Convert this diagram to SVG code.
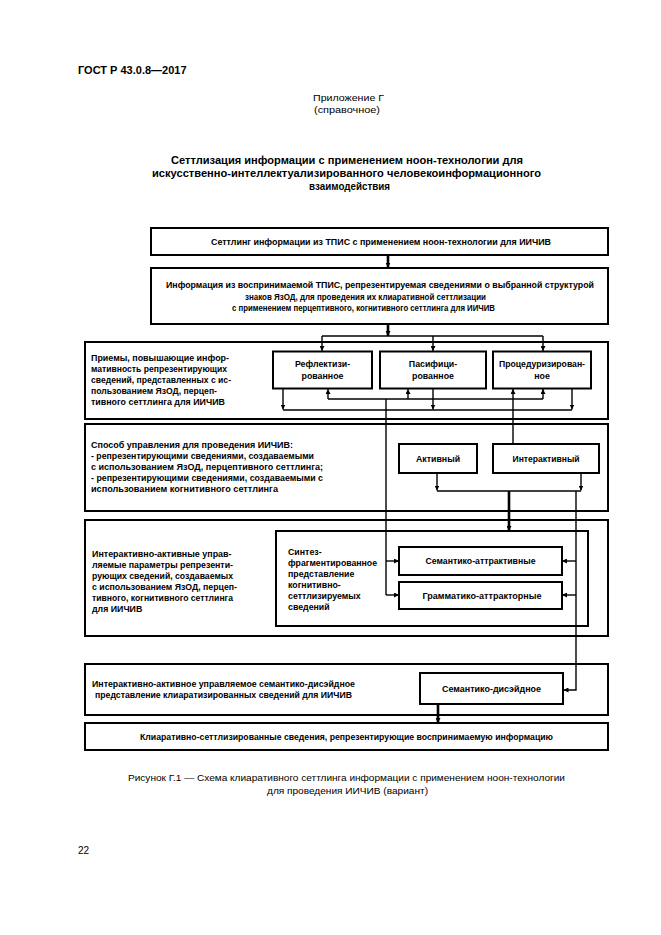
<svg xmlns="http://www.w3.org/2000/svg" width="661" height="935" viewBox="0 0 661 935">
<defs>
<style>
.bx{fill:none;stroke:#000;stroke-width:2}
.ln{fill:none;stroke:#000;stroke-width:1.4}
.tk{stroke-width:2.6}
.t{font-family:"Liberation Sans",Arial,sans-serif;font-size:8.8px;font-weight:bold;fill:#000}
.c{text-anchor:middle}
.h{font-family:"Liberation Sans",Arial,sans-serif;fill:#000}
</style>
<marker id="ah" viewBox="0 0 10 10" refX="10" refY="5" markerWidth="5" markerHeight="5" markerUnits="userSpaceOnUse" orient="auto"><path d="M0,0 L10,5 L0,10 z" fill="#000"/></marker>
</defs>
<rect width="661" height="935" fill="#fff"/>
<g id="header">
<text class="h" x="78" y="74" font-size="11" font-weight="bold">ГОСТ Р 43.0.8—2017</text>
<text class="h" x="348.5" y="100.5" font-size="9.5" text-anchor="middle" textLength="71" lengthAdjust="spacingAndGlyphs">Приложение Г</text>
<text class="h" x="347" y="112.5" font-size="9.5" text-anchor="middle" textLength="66" lengthAdjust="spacingAndGlyphs">(справочное)</text>
<text class="h" x="347" y="164" font-size="10.5" font-weight="bold" text-anchor="middle" textLength="352" lengthAdjust="spacingAndGlyphs">Сеттлизация информации с применением ноон-технологии для</text>
<text class="h" x="346.5" y="177" font-size="10.5" font-weight="bold" text-anchor="middle" textLength="389" lengthAdjust="spacingAndGlyphs">искусственно-интеллектуализированного человекоинформационного</text>
<text class="h" x="349.5" y="190" font-size="10.5" font-weight="bold" text-anchor="middle" textLength="81" lengthAdjust="spacingAndGlyphs">взаимодействия</text>
</g>
<g id="connectors">
<path class="ln tk" d="M388,255 V267.5" marker-end="url(#ah)"/>
<path class="ln tk" d="M388,324 V336" marker-end="url(#ah)"/>
<path class="ln" d="M322,336 H543"/>
<path class="ln" d="M322,336 V351" marker-end="url(#ah)"/>
<path class="ln" d="M433,336 V351" marker-end="url(#ah)"/>
<path class="ln" d="M543,336 V351" marker-end="url(#ah)"/>
<path class="ln" d="M328,399 H543"/>
<path class="ln" d="M328,399 V389" marker-end="url(#ah)"/>
<path class="ln" d="M408,399 V389" marker-end="url(#ah)"/>
<path class="ln" d="M513,399 V389" marker-end="url(#ah)"/>
<path class="ln" d="M543,399 V389" marker-end="url(#ah)"/>
<path class="ln" d="M283,389 V409.5" marker-end="url(#ah)"/>
<path class="ln" d="M433,389 V409.5" marker-end="url(#ah)"/>
<path class="ln" d="M572,389 V409.5" marker-end="url(#ah)"/>
<path class="ln" d="M283,410 H572"/>
<path class="ln" d="M386,399 V595"/>
<path class="ln" d="M513,399 V444"/>
<path class="ln" d="M437,473 V490.5" marker-end="url(#ah)"/>
<path class="ln" d="M581,473 V490.5" marker-end="url(#ah)"/>
<path class="ln" d="M437,491 H581"/>
<path class="ln tk" d="M509,491 V531" marker-end="url(#ah)"/>
<path class="ln" d="M576,491 V690 H563.5" marker-end="url(#ah)"/>
<path class="ln" d="M386,561 H399" marker-end="url(#ah)"/>
<path class="ln" d="M386,595 H399" marker-end="url(#ah)"/>
<path class="ln" d="M576,561 H562" marker-end="url(#ah)"/>
<path class="ln" d="M576,595 H562" marker-end="url(#ah)"/>
<path class="ln tk" d="M438,704 V723" marker-end="url(#ah)"/>
</g>
<g id="box-settling">
<rect class="bx" x="151" y="228" width="457" height="27"/>
<text class="t c" x="381" y="244.5" textLength="340" lengthAdjust="spacingAndGlyphs">Сеттлинг информации из ТПИС с применением ноон-технологии для ИИЧИВ</text>
</g>
<g id="box-info">
<rect class="bx" x="151" y="268" width="457" height="56"/>
<text class="t" x="166" y="288" textLength="428" lengthAdjust="spacingAndGlyphs">Информация из воспринимаемой ТПИС, репрезентируемая сведениями о выбранной структурой</text>
<text class="t" x="245" y="299.5" textLength="241" lengthAdjust="spacingAndGlyphs">знаков ЯзОД, для проведения их клиаративной сеттлизации</text>
<text class="t" x="232" y="310.5" textLength="263" lengthAdjust="spacingAndGlyphs">с применением перцептивного, когнитивного сеттлинга для ИИЧИВ</text>
</g>
<g id="sec-methods">
<rect class="bx" x="85" y="342" width="523" height="77"/>
<text class="t" x="91" y="361" textLength="138" lengthAdjust="spacingAndGlyphs">Приемы, повышающие инфор-</text>
<text class="t" x="91" y="372" textLength="136" lengthAdjust="spacingAndGlyphs">мативность репрезентирующих</text>
<text class="t" x="91" y="383" textLength="140" lengthAdjust="spacingAndGlyphs">сведений, представленных с ис-</text>
<text class="t" x="91" y="394" textLength="126" lengthAdjust="spacingAndGlyphs">пользованием ЯзОД, перцеп-</text>
<text class="t" x="91" y="405" textLength="134" lengthAdjust="spacingAndGlyphs">тивного сеттлинга для ИИЧИВ</text>
</g>
<g id="box-reflect">
<rect class="bx" x="273" y="351.5" width="99" height="37"/>
<text class="t c" x="322.5" y="367">Рефлектизи-</text>
<text class="t c" x="322.5" y="379">рованное</text>
</g>
<g id="box-pasif">
<rect class="bx" x="380" y="351.5" width="106" height="37"/>
<text class="t c" x="433" y="367">Пасифици-</text>
<text class="t c" x="433" y="379">рованное</text>
</g>
<g id="box-proc">
<rect class="bx" x="493" y="351.5" width="98" height="37"/>
<text class="t c" x="542" y="367" textLength="86" lengthAdjust="spacingAndGlyphs">Процедуризирован-</text>
<text class="t c" x="542" y="379">ное</text>
</g>
<g id="sec-control">
<rect class="bx" x="85" y="424" width="523" height="87"/>
<text class="t" x="91" y="448" textLength="202" lengthAdjust="spacingAndGlyphs">Способ управления для проведения ИИЧИВ:</text>
<text class="t" x="91" y="459" textLength="223" lengthAdjust="spacingAndGlyphs">- репрезентирующими сведениями, создаваемыми</text>
<text class="t" x="91" y="470" textLength="232" lengthAdjust="spacingAndGlyphs">с использованием ЯзОД, перцептивного сеттлинга;</text>
<text class="t" x="91" y="481" textLength="232" lengthAdjust="spacingAndGlyphs">- репрезентирующими сведениями, создаваемыми с</text>
<text class="t" x="91" y="492" textLength="187" lengthAdjust="spacingAndGlyphs">использованием когнитивного сеттлинга</text>
</g>
<g id="box-active">
<rect class="bx" x="399" y="444" width="78" height="29"/>
<text class="t c" x="438" y="461.5">Активный</text>
</g>
<g id="box-interactive">
<rect class="bx" x="493" y="444" width="106" height="29"/>
<text class="t c" x="546" y="461.5" textLength="67" lengthAdjust="spacingAndGlyphs">Интерактивный</text>
</g>
<g id="sec-params">
<rect class="bx" x="85" y="520" width="523" height="116"/>
<text class="t" x="92" y="557" textLength="139.5" lengthAdjust="spacingAndGlyphs">Интерактивно-активные управ-</text>
<text class="t" x="92" y="568" textLength="141" lengthAdjust="spacingAndGlyphs">ляемые параметры репрезенти-</text>
<text class="t" x="92" y="579" textLength="141" lengthAdjust="spacingAndGlyphs">рующих сведений, создаваемых</text>
<text class="t" x="92" y="590" textLength="145" lengthAdjust="spacingAndGlyphs">с использованием ЯзОД, перцеп-</text>
<text class="t" x="92" y="601" textLength="141" lengthAdjust="spacingAndGlyphs">тивного, когнитивного сеттлинга</text>
<text class="t" x="92" y="612">для ИИЧИВ</text>
</g>
<g id="box-synthesis">
<rect class="bx" x="276" y="531" width="312" height="95"/>
<text class="t" x="288" y="555">Синтез-</text>
<text class="t" x="288" y="566" textLength="89" lengthAdjust="spacingAndGlyphs">фрагментированное</text>
<text class="t" x="288" y="577">представление</text>
<text class="t" x="288" y="588">когнитивно-</text>
<text class="t" x="288" y="599">сеттлизируемых</text>
<text class="t" x="288" y="610">сведений</text>
</g>
<g id="box-sem-attr">
<rect class="bx" x="399" y="547" width="163" height="28"/>
<text class="t c" x="480.5" y="564" textLength="110" lengthAdjust="spacingAndGlyphs">Семантико-аттрактивные</text>
</g>
<g id="box-gram-attr">
<rect class="bx" x="399" y="582" width="163" height="27"/>
<text class="t c" x="482" y="598.5" textLength="119" lengthAdjust="spacingAndGlyphs">Грамматико-аттракторные</text>
</g>
<g id="sec-semdis">
<rect class="bx" x="85" y="664" width="523" height="51"/>
<text class="t" x="92" y="687" textLength="263" lengthAdjust="spacingAndGlyphs">Интерактивно-активное управляемое семантико-дисэйдное</text>
<text class="t" x="95" y="698" textLength="257" lengthAdjust="spacingAndGlyphs">представление клиаратизированных сведений для ИИЧИВ</text>
</g>
<g id="box-semdis">
<rect class="bx" x="420" y="673" width="143" height="31"/>
<text class="t c" x="491.5" y="691.5" textLength="99" lengthAdjust="spacingAndGlyphs">Семантико-дисэйдное</text>
</g>
<g id="box-result">
<rect class="bx" x="85" y="723" width="523" height="27"/>
<text class="t c" x="346.5" y="739.5" textLength="413" lengthAdjust="spacingAndGlyphs">Клиаративно-сеттлизированные сведения, репрезентирующие воспринимаемую информацию</text>
</g>
<g id="caption">
<text class="h" x="346.5" y="780.5" font-size="9.5" text-anchor="middle" textLength="437" lengthAdjust="spacingAndGlyphs">Рисунок Г.1 — Схема клиаративного сеттлинга информации с применением ноон-технологии</text>
<text class="h" x="347.5" y="793.5" font-size="9.5" text-anchor="middle" textLength="161" lengthAdjust="spacingAndGlyphs">для проведения ИИЧИВ (вариант)</text>
<text class="h" x="78" y="853.5" font-size="10">22</text>
</g>
</svg>
